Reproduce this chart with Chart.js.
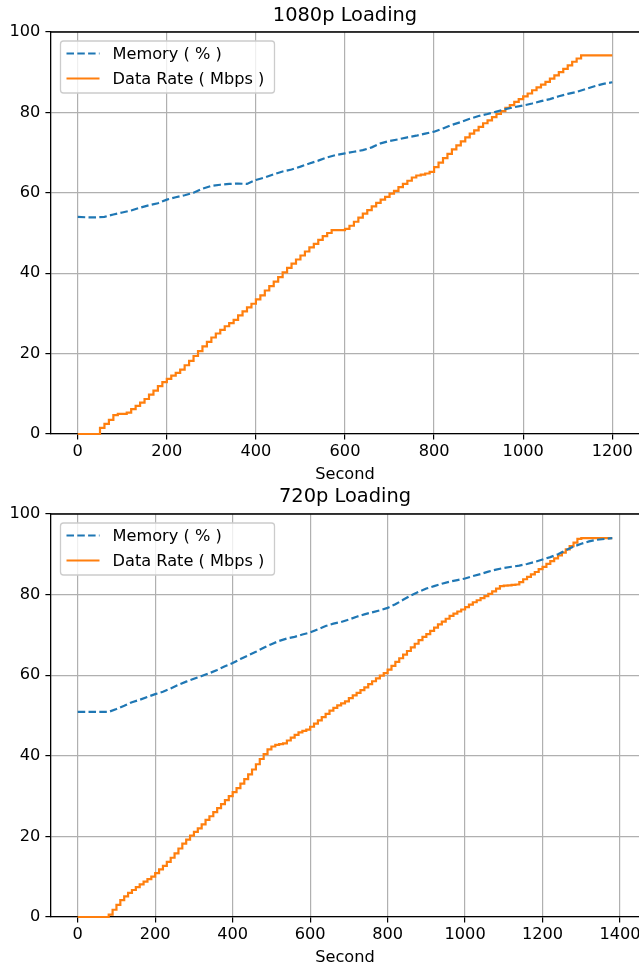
<!DOCTYPE html>
<html>
<head>
<meta charset="utf-8">
<script src="https://cdn.jsdelivr.net/npm/chart.js@4.4.1/dist/chart.umd.min.js"></script>
<style>
  html, body { margin: 0; padding: 0; background: #fff; overflow: hidden; }
  .panel { width: 639px; height: 485px; overflow: hidden; position: relative; }
  canvas { display: block; }
</style>
</head>
<body>
<div class="panel"><canvas id="chart1080" width="690" height="485"></canvas></div>
<div class="panel"><canvas id="chart720" width="690" height="485"></canvas></div>
<script>
// sample times in seconds (memory read every 20 s, data rate every 10 s)
function secondsUpTo(last, step) {
  const out = [];
  for (let s = 0; s <= last; s += step) out.push(s);
  return out;
}
const memSeconds1080 = secondsUpTo(1200, 20);
const rateSeconds1080 = secondsUpTo(1200, 10);
const memSeconds720 = secondsUpTo(1380, 20);
const rateSeconds720 = secondsUpTo(1380, 10);

const memory1080 = [54.0, 53.9, 53.9, 54.0, 54.6, 55.1, 55.6, 56.3, 56.9, 57.4,
  58.3, 58.9, 59.4, 60.0, 61.0, 61.7, 62.0, 62.2, 62.3, 62.2,
  63.2, 63.8, 64.6, 65.3, 65.8, 66.5, 67.3, 68.0, 68.8, 69.4,
  69.8, 70.2, 70.6, 71.3, 72.3, 72.9, 73.3, 73.8, 74.2, 74.7,
  75.2, 76.0, 76.9, 77.6, 78.4, 79.1, 79.6, 80.2, 80.8, 81.3,
  81.7, 82.2, 82.8, 83.3, 84.0, 84.6, 85.1, 85.8, 86.5, 87.1, 87.5];
const rate1080 = [
  0, 0, 0, 0, 0, 0, 1.5, 2.5, 3.5, 4.7,
  5.0, 5.0, 5.3, 6.2, 7.0, 7.8, 8.7, 9.8, 10.8, 11.9,
  12.9, 13.7, 14.5, 15.2, 16.0, 17.1, 18.2, 19.4, 20.6, 21.8,
  22.9, 24.0, 25.0, 25.9, 26.8, 27.6, 28.4, 29.5, 30.5, 31.5,
  32.4, 33.5, 34.5, 35.7, 36.8, 37.9, 39.0, 40.2, 41.3, 42.4,
  43.4, 44.4, 45.4, 46.4, 47.3, 48.3, 49.2, 50.0, 50.7, 50.7,
  50.7, 51.0, 51.8, 52.8, 53.8, 54.8, 55.7, 56.6, 57.5, 58.3,
  59.0, 59.8, 60.5, 61.4, 62.2, 63.0, 63.8, 64.3, 64.5, 64.8,
  65.2, 66.4, 67.5, 68.6, 69.7, 70.8, 71.8, 72.8, 73.8, 74.7,
  75.5, 76.4, 77.3, 78.0, 78.8, 79.6, 80.3, 81.1, 81.8, 82.6,
  83.3, 84.0, 84.7, 85.5, 86.2, 86.9, 87.6, 88.4, 89.2, 90.0,
  90.8, 91.7, 92.6, 93.4, 94.2, 94.2, 94.2, 94.2, 94.2, 94.2,
  94.2];

const memory720 = [50.9, 50.9, 50.9, 50.9, 50.9, 51.6, 52.4, 53.3, 53.9, 54.6,
  55.3, 55.9, 56.7, 57.6, 58.4, 59.1, 59.8, 60.5, 61.3, 62.2,
  63.0, 64.0, 64.9, 65.8, 66.8, 67.7, 68.5, 69.1, 69.5, 70.1,
  70.6, 71.4, 72.2, 72.8, 73.2, 73.8, 74.5, 75.1, 75.6, 76.1,
  76.7, 77.6, 78.7, 79.8, 80.7, 81.5, 82.1, 82.7, 83.2, 83.6,
  84.0, 84.6, 85.1, 85.7, 86.2, 86.6, 86.9, 87.2, 87.6, 88.1,
  88.7, 89.3, 90.0, 91.0, 91.9, 92.6, 93.2, 93.6, 93.8, 94.0];
const rate720 = [
  0, 0, 0, 0, 0, 0, 0, 0, 0, 0.6,
  1.8, 3.0, 4.2, 5.1, 6.0, 6.7, 7.4, 8.1, 8.8, 9.4,
  10.0, 10.9, 11.8, 12.7, 13.7, 14.7, 15.8, 17.0, 18.2, 19.2,
  20.2, 21.1, 22.0, 23.0, 24.1, 25.0, 26.0, 27.0, 28.0, 29.0,
  30.0, 31.0, 32.0, 33.1, 34.2, 35.4, 36.6, 37.9, 39.2, 40.4,
  41.6, 42.3, 42.7, 42.9, 43.1, 43.8, 44.5, 45.2, 45.8, 46.2,
  46.5, 47.2, 48.0, 48.8, 49.6, 50.4, 51.2, 51.9, 52.5, 53.0,
  53.5, 54.3, 55.0, 55.6, 56.3, 57.0, 57.8, 58.5, 59.2, 59.9,
  60.5, 61.4, 62.3, 63.3, 64.2, 65.1, 66.0, 66.9, 67.8, 68.7,
  69.5, 70.2, 71.0, 71.8, 72.6, 73.3, 74.0, 74.7, 75.3, 75.8,
  76.3, 76.9, 77.5, 78.1, 78.6, 79.1, 79.6, 80.2, 80.8, 81.5,
  82.1, 82.2, 82.3, 82.4, 82.5, 83.1, 83.8, 84.4, 85.0, 85.6,
  86.3, 86.9, 87.6, 88.3, 89.0, 89.7, 90.4, 91.2, 92.0, 92.9,
  93.8, 94.0, 94.0, 94.0, 94.0, 94.0, 94.0, 94.0, 94.0];

const yTicks = [0, 20, 40, 60, 80, 100];
const memoryLabel = 'Memory ( % )';
const rateLabel = 'Data Rate ( Mbps )';
const blue = '#1f77b4';
const orange = '#ff7f0e';
const textSize = 16.2;

Chart.defaults.font.family = "'DejaVu Sans', sans-serif";
Chart.defaults.color = '#000';

// top spine + boxed legend drawn inside the plot area
const framePlugin = {
  id: 'frame',
  afterDatasetsDraw(chart) {
    const { ctx, chartArea } = chart;
    ctx.save();
    ctx.strokeStyle = '#000';
    ctx.lineWidth = 1.3;
    ctx.beginPath();
    ctx.moveTo(chartArea.left, chartArea.top);
    ctx.lineTo(chartArea.right, chartArea.top);
    ctx.stroke();

    // legend box
    const bx = chartArea.left + 9.5, by = chartArea.top + 9, bw = 214, bh = 52;
    ctx.fillStyle = 'rgba(255,255,255,0.8)';
    ctx.strokeStyle = '#cccccc';
    ctx.lineWidth = 1.3;
    ctx.beginPath();
    ctx.roundRect(bx, by, bw, bh, 3);
    ctx.fill();
    ctx.stroke();

    ctx.font = textSize + "px 'DejaVu Sans', sans-serif";
    ctx.textBaseline = 'middle';
    ctx.fillStyle = '#000';
    chart.data.datasets.forEach((ds, i) => {
      const rowY = by + 12.5 + i * 25;
      ctx.strokeStyle = ds.borderColor;
      ctx.lineWidth = ds.borderWidth;
      ctx.setLineDash(ds.borderDash || []);
      ctx.beginPath();
      ctx.moveTo(bx + 6, rowY);
      ctx.lineTo(bx + 39, rowY);
      ctx.stroke();
      ctx.setLineDash([]);
      ctx.fillText(ds.label, bx + 52, rowY + 1);
    });
    ctx.restore();
  }
};

function makeChart(canvasId, title, memSecs, memory, rateSecs, rate, xMax, titlePad, xAxisHeight, xTitlePad) {
  const ctx = document.getElementById(canvasId).getContext('2d');
  const xMin = -(xMax / 1.05) * 0.05;
  return new Chart(ctx, {
    type: 'line',
    data: {
      datasets: [{
        label: memoryLabel,
        data: memSecs.map((s, i) => ({ x: s, y: memory[i] })),
        borderColor: blue,
        borderWidth: 2.2,
        borderDash: [7.5, 3.3],
        pointRadius: 0,
        tension: 0,
        clip: 4
      }, {
        label: rateLabel,
        data: rateSecs.map((s, i) => ({ x: s, y: rate[i] })),
        borderColor: orange,
        borderWidth: 2.2,
        stepped: 'after',
        pointRadius: 0,
        clip: 4
      }]
    },
    options: {
      responsive: false,
      animation: false,
      layout: { padding: 0 },
      plugins: {
        legend: { display: false },
        tooltip: { enabled: false },
        title: {
          display: true,
          text: title,
          color: '#000',
          font: { size: 19.4, weight: 'normal' },
          padding: titlePad
        }
      },
      scales: {
        x: {
          type: 'linear',
          min: xMin,
          max: xMax,
          afterFit(scale) { scale.height = xAxisHeight; },
          ticks: {
            stepSize: 200, includeBounds: false, padding: 2, maxRotation: 0,
            font: { size: textSize },
            callback: v => String(v)
          },
          grid: { color: '#b0b0b0', lineWidth: 1.2, tickColor: '#000', tickLength: 5.6 },
          border: { color: '#000', width: 1.3 },
          title: { display: true, text: 'Second', font: { size: textSize }, padding: { top: 0, bottom: xTitlePad } }
        },
        y: {
          min: 0,
          max: 100,
          afterFit(scale) { scale.width = 51; },
          afterBuildTicks(scale) { scale.ticks = yTicks.map(v => ({ value: v })); },
          ticks: { padding: 5, font: { size: textSize }, callback: v => String(v) },
          grid: { color: '#b0b0b0', lineWidth: 1.2, tickColor: '#000', tickLength: 5.6 },
          border: { color: '#000', width: 1.3 }
        },
        // empty right-hand space (cropped off in the picture) so the title centres over the axes
        yRight: {
          position: 'right',
          min: 0,
          max: 100,
          afterFit(scale) { scale.width = 51; },
          ticks: { display: false },
          grid: { display: false },
          border: { display: false }
        }
      }
    },
    plugins: [framePlugin]
  });
}

makeChart('chart1080', '1080p Loading', memSeconds1080, memory1080, rateSeconds1080, rate1080, 1260, { top: 4.5, bottom: 4.2 }, 51, 0);
makeChart('chart720', '720p Loading', memSeconds720, memory720, rateSeconds720, rate720, 1449, { top: 0.5, bottom: 5.2 }, 53, 2.3);
</script>
</body>
</html>
